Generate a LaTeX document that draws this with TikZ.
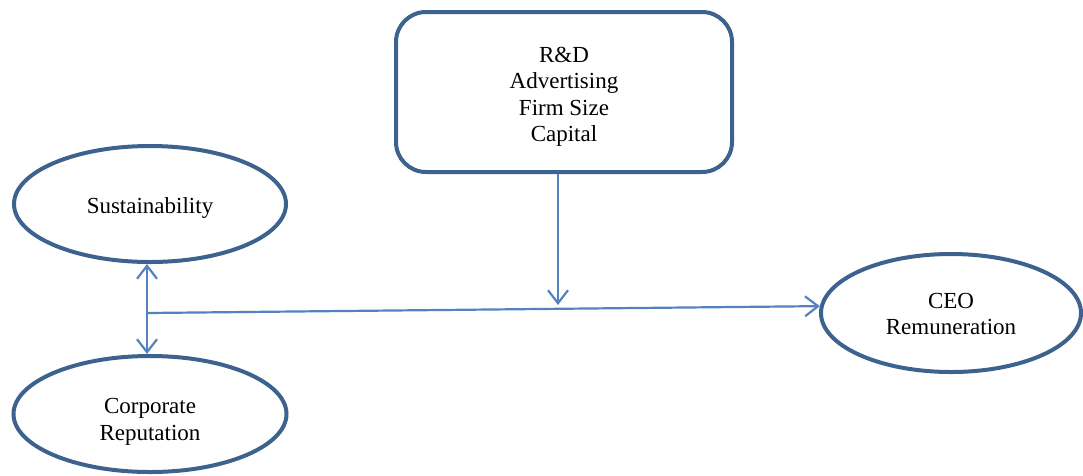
\documentclass[tikz,border=0pt]{standalone}
\usepackage{fontspec}
\setmainfont{Liberation Serif}
\usetikzlibrary{shapes.geometric,arrows.meta}
\definecolor{rimblue}{RGB}{61,98,142}
\definecolor{lineblue}{RGB}{84,130,190}

\begin{document}
\begin{tikzpicture}[x=1pt,y=-1pt]
        \useasboundingbox (0,0) rectangle (1083,475);

        \begin{scope}[every node/.style={draw=rimblue, line width=4pt, align=center, font=\fontsize{23}{26.5}\selectfont},
                      every label/.style={draw=none, align=center, font=\fontsize{23}{26.5}\selectfont}]
          \node[rectangle, rounded corners=30pt, minimum width=336pt, minimum height=160pt,
                label={[yshift=-5pt]center:R\&D\\Advertising\\Firm Size\\Capital}] (box) at (564,92) {};
          \node[ellipse, inner sep=0pt, minimum width=272pt, minimum height=116pt,
                label={[yshift=-4pt]center:Sustainability}] (sus) at (150,204) {};
          \node[ellipse, inner sep=0pt, minimum width=273pt, minimum height=116pt,
                label={[yshift=-8pt]center:Corporate\\Reputation}] (rep) at (150,414) {};
          \node[ellipse, inner sep=0pt, minimum width=260pt, minimum height=118pt,
                label={[yshift=-1pt]center:CEO\\Remuneration}] (ceo) at (951,313) {};
        \end{scope}

        \coordinate (join) at (147,313);
        \coordinate (drop) at (558,305);

        \begin{scope}[lineblue, line width=2.2pt, >={Straight Barb[length=13pt,width=20pt]}]
          \draw[<->] (sus.south -| join) -- (rep.north -| join);
          \draw[->] (join) -- (ceo.177);
          \draw[->] (box.south -| drop) -- (drop);
        \end{scope}

      \end{tikzpicture}
\end{document}
